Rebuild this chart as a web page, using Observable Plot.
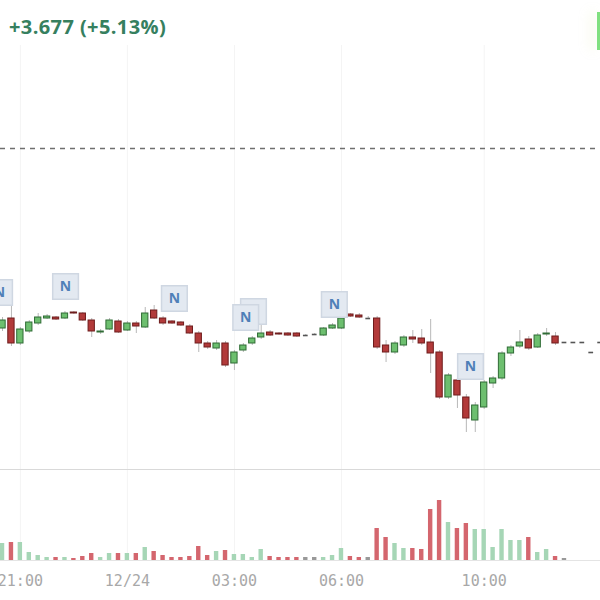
<!DOCTYPE html>
<html><head><meta charset="utf-8">
<script src="https://cdn.jsdelivr.net/npm/d3@7"></script>
<script src="https://cdn.jsdelivr.net/npm/@observablehq/plot@0.6"></script>
<style>
html,body{margin:0;padding:0;background:#fff;}
#wrap{position:relative;width:600px;height:600px;overflow:hidden;background:#fff;font-family:"Open Sans",sans-serif;}
#title{position:absolute;left:9px;top:13px;font-size:20px;font-weight:700;color:#36805f;white-space:nowrap;letter-spacing:0.4px;}
#mark{position:absolute;left:597px;top:12px;width:3px;height:38px;background:#80e080;box-shadow:-6px 0 12px rgba(235,240,200,0.7);}
#price{position:absolute;left:0;top:45px;}
#vol{position:absolute;left:0;top:469px;border-top:1px solid #d9d9d9;}
svg{display:block;}
</style></head>
<body><div id="wrap"><div id="title"></div><div id="mark"></div><div id="price"></div><div id="vol"></div></div>
<script>
const changeText = "+3.677 (+5.13%)";
const candleStart = "2023-12-23T20:30:00Z";
const intervalMinutes = 15;
const open = [75.49,75.59,75.34,75.46,75.54,75.59,75.60,75.59,75.65,75.64, 75.57,75.45,75.48,75.56,75.47,75.54,75.50,75.67,75.59,75.56, 75.55,75.51,75.44,75.34,75.29,75.34,75.14,75.27,75.34,75.40, 75.45,75.44,75.44,75.44,75.42,75.43,75.42,75.49,75.49,75.63, 75.62,75.59,75.59,75.32,75.25,75.32,75.40,75.39,75.35,75.25, 74.80,74.97,74.80,74.57,74.70,74.94,74.99,75.24,75.31,75.38, 75.30,75.43,75.41,75.35,75.35,75.35,75.25,75.35];
const high = [75.60,75.74,75.50,75.57,75.64,75.63,75.61,75.66,75.66,75.65, 75.59,75.48,75.59,75.58,75.56,75.56,75.70,75.72,75.61,75.57, 75.56,75.53,75.46,75.36,75.37,75.36,75.27,75.34,75.41,75.54, 75.47,75.45,75.45,75.45,75.43,75.44,75.50,75.54,75.61,75.64, 75.64,75.61,75.61,75.37,75.36,75.42,75.47,75.48,75.58,75.27, 75.04,74.99,74.83,74.75,74.97,75.01,75.26,75.32,75.47,75.41, 75.44,75.49,75.45,75.35,75.35,75.35,75.25,75.35];
const low = [75.46,75.31,75.32,75.44,75.52,75.58,75.57,75.58,75.63,75.56, 75.40,75.43,75.47,75.44,75.46,75.44,75.49,75.58,75.52,75.53, 75.51,75.43,75.25,75.28,75.27,75.10,75.07,75.25,75.32,75.38, 75.41,75.42,75.41,75.40,75.41,75.42,75.41,75.48,75.48,75.60, 75.59,75.58,75.28,75.15,75.23,75.30,75.34,75.32,75.04,74.78, 74.78,74.69,74.45,74.45,74.68,74.89,74.97,75.21,75.29,75.27, 75.29,75.41,75.32,75.35,75.35,75.35,75.25,75.35];
const close = [75.57,75.34,75.48,75.55,75.60,75.61,75.58,75.64,75.64,75.57, 75.46,75.46,75.57,75.45,75.54,75.51,75.64,75.59,75.54,75.54, 75.52,75.44,75.34,75.30,75.34,75.12,75.25,75.32,75.39,75.44, 75.42,75.43,75.42,75.41,75.42,75.43,75.49,75.52,75.59,75.61, 75.60,75.59,75.30,75.25,75.34,75.40,75.38,75.34,75.24,74.80, 75.02,74.82,74.59,74.72,74.95,74.99,75.24,75.30,75.35,75.29, 75.42,75.44,75.34,75.35,75.35,75.35,75.25,75.35];
const volume = [1700,1800,1800,800,500,300,300,300,200,400, 700,300,700,700,700,700,1300,900,500,300, 300,400,1400,500,900,1000,600,600,300,1100, 400,300,300,300,300,300,300,500,1200,400, 300,300,3200,2300,1700,1200,1200,1100,5100,6000, 3800,3200,3700,3100,3100,1300,3100,2000,2000,2300, 800,1100,400,200,0,0,0,0];
const refPrice = 77.29;
const newsTimes = ["2023-12-23T20:25:00Z","2023-12-23T22:16:00Z","2023-12-24T01:19:00Z","2023-12-24T03:32:00Z","2023-12-24T03:19:00Z","2023-12-24T05:48:00Z","2023-12-24T09:37:00Z"];
const newsPrices = [75.85,75.91,75.79,75.66,75.60,75.73,75.11];
const newsLabels = ["N","N","N","","N","N","N"];
const tickTimes = ["2023-12-23T21:00:00Z","2023-12-24T00:00:00Z","2023-12-24T03:00:00Z","2023-12-24T06:00:00Z","2023-12-24T10:00:00Z"];
const tickLabels = ["21:00","12/24","03:00","06:00","10:00"];
const xDomain = ["2023-12-23T20:26:36Z","2023-12-24T13:15:36Z"];
const priceDomain = [74.07, 78.32];
const volumeDomain = [0, 9000];

document.getElementById("title").textContent = changeText;
const MIN = 60000;
const t0 = new Date(candleStart).getTime();
const candles = open.map((o, i) => ({t: new Date(t0 + i * intervalMinutes * MIN), o, h: high[i], l: low[i], c: close[i], v: volume[i]}));
const isUp = d => d.c > d.o;
const isFlat = d => d.c === d.o;
const news = newsTimes.map((t, i) => ({t: new Date(t), p: newsPrices[i], label: newsLabels[i]}));
const ticks = tickTimes.map(t => new Date(t));
const xd = xDomain.map(t => new Date(t));
const off = m => d => new Date(+d.t + m * MIN);

const pricePlot = Plot.plot({
  width: 600, height: 425,
  marginLeft: 0, marginRight: 0, marginTop: 0, marginBottom: 0,
  x: {type: "utc", domain: xd, axis: null},
  y: {domain: priceDomain, axis: null},
  marks: [
    Plot.ruleX(ticks, {stroke: "#f4f4f4"}),
    Plot.ruleY([refPrice], {stroke: "#6f6f6f", strokeDasharray: "5,5", strokeWidth: 1.3}),
    Plot.ruleX(candles.filter(d => d.h !== d.l), {x: "t", y1: "l", y2: "h", stroke: "#b8b8b8", strokeWidth: 1}),
    Plot.rect(candles.filter(d => !isFlat(d)), {x1: off(-5.3), x2: off(5.3), y1: "o", y2: "c",
      fill: d => isUp(d) ? "#6dbf6f" : "#b23a3a", stroke: d => isUp(d) ? "#2f6b35" : "#6e1c1c", strokeWidth: 1}),
    Plot.ruleY(candles.filter(isFlat), {y: "o", x1: off(-4), x2: off(4), stroke: "#555", strokeWidth: 1.6}),
    ...news.flatMap(n => [
      Plot.dot([n], {x: "t", y: "p", symbol: "square", r: 14.5, fill: "#e3e9f1", stroke: "#cfd7e2"}),
      ...(n.label ? [Plot.text([n], {x: "t", y: "p", text: "label", fill: "#4f80b8", fontSize: 14, fontWeight: "bold"})] : [])
    ])
  ]
});
document.getElementById("price").appendChild(pricePlot);

const volPlot = Plot.plot({
  width: 600, height: 130,
  marginLeft: 0, marginRight: 0, marginTop: 0, marginBottom: 40,
  x: {type: "utc", domain: xd},
  y: {domain: volumeDomain, axis: null},
  marks: [
    Plot.ruleX(ticks, {stroke: "#f4f4f4"}),
    Plot.ruleY([0], {stroke: "#e4e4e4"}),
    Plot.rect(candles.filter(d => d.v > 0), {x1: off(-3.7), x2: off(3.7), y1: 0, y2: "v",
      fill: d => isFlat(d) ? "#999" : isUp(d) ? "#a6d6b6" : "#d4666e"}),
    Plot.axisX(ticks, {tickSize: 0, tickPadding: 15, fontSize: 15, fontFamily: "DejaVu Sans Mono", color: "#a8a8a8",
      tickFormat: d => tickLabels[ticks.findIndex(t => +t === +d)]})
  ]
});
document.getElementById("vol").appendChild(volPlot);
</script>
</body></html>
